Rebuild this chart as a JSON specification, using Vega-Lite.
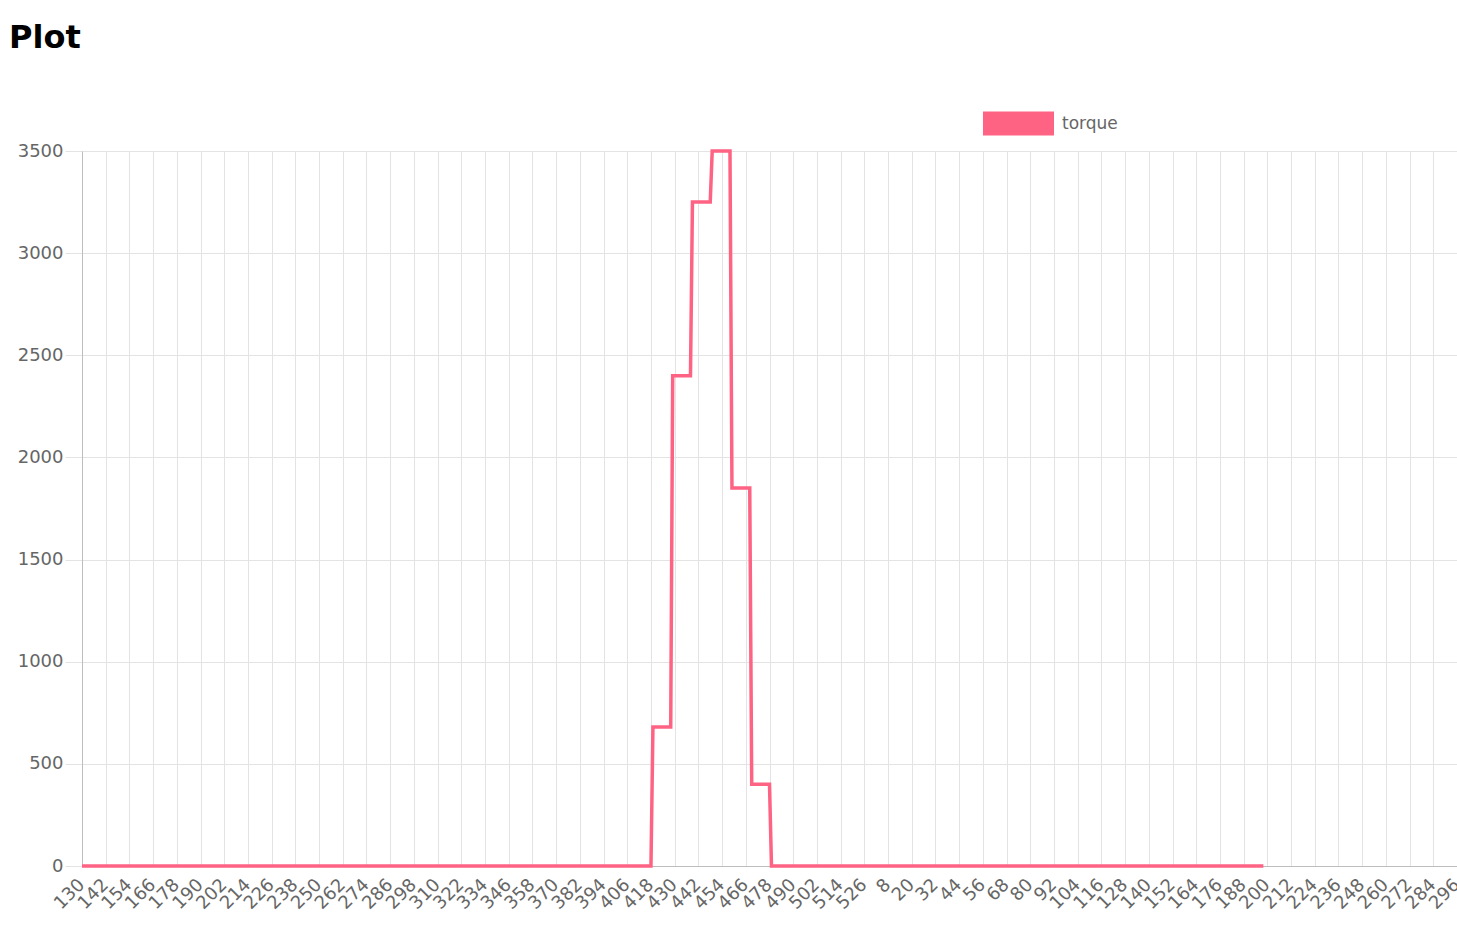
{
  "$schema": "https://vega.github.io/schema/vega-lite/v6.json",
  "autosize": {"type": "none"},
  "padding": {"left": 82, "top": 151, "right": 0, "bottom": 77},
  "width": 1375,
  "height": 715,
  "background": "white",
  "title": {
    "text": "Plot",
    "anchor": "start",
    "frame": "group",
    "font": "DejaVu Sans",
    "fontSize": 32,
    "fontWeight": "bold",
    "color": "#000000",
    "dx": -73,
    "offset": 33
  },
  "config": {
    "view": {"stroke": null},
    "axis": {
      "labelFont": "DejaVu Sans",
      "labelColor": "#666666",
      "gridColor": "#e3e3e3",
      "gridWidth": 1,
      "tickColor": "#e3e3e3",
      "domainColor": "#bdbdbd"
    }
  },
  "datasets": {
    "torque": [
      {"index": 0, "torque": 0, "series": "torque"},
      {"index": 288, "torque": 0, "series": "torque"},
      {"index": 289, "torque": 680, "series": "torque"},
      {"index": 298, "torque": 680, "series": "torque"},
      {"index": 299, "torque": 2400, "series": "torque"},
      {"index": 308, "torque": 2400, "series": "torque"},
      {"index": 309, "torque": 3250, "series": "torque"},
      {"index": 318, "torque": 3250, "series": "torque"},
      {"index": 319, "torque": 3500, "series": "torque"},
      {"index": 328, "torque": 3500, "series": "torque"},
      {"index": 329, "torque": 1850, "series": "torque"},
      {"index": 338, "torque": 1850, "series": "torque"},
      {"index": 339, "torque": 400, "series": "torque"},
      {"index": 348, "torque": 400, "series": "torque"},
      {"index": 349, "torque": 0, "series": "torque"},
      {"index": 598, "torque": 0, "series": "torque"}
    ],
    "ticks": [
      {"index": 0, "label": "130"}, {"index": 12, "label": "142"}, {"index": 24, "label": "154"},
      {"index": 36, "label": "166"}, {"index": 48, "label": "178"}, {"index": 60, "label": "190"},
      {"index": 72, "label": "202"}, {"index": 84, "label": "214"}, {"index": 96, "label": "226"},
      {"index": 108, "label": "238"}, {"index": 120, "label": "250"}, {"index": 132, "label": "262"},
      {"index": 144, "label": "274"}, {"index": 156, "label": "286"}, {"index": 168, "label": "298"},
      {"index": 180, "label": "310"}, {"index": 192, "label": "322"}, {"index": 204, "label": "334"},
      {"index": 216, "label": "346"}, {"index": 228, "label": "358"}, {"index": 240, "label": "370"},
      {"index": 252, "label": "382"}, {"index": 264, "label": "394"}, {"index": 276, "label": "406"},
      {"index": 288, "label": "418"}, {"index": 300, "label": "430"}, {"index": 312, "label": "442"},
      {"index": 324, "label": "454"}, {"index": 336, "label": "466"}, {"index": 348, "label": "478"},
      {"index": 360, "label": "490"}, {"index": 372, "label": "502"}, {"index": 384, "label": "514"},
      {"index": 396, "label": "526"}, {"index": 408, "label": "8"}, {"index": 420, "label": "20"},
      {"index": 432, "label": "32"}, {"index": 444, "label": "44"}, {"index": 456, "label": "56"},
      {"index": 468, "label": "68"}, {"index": 480, "label": "80"}, {"index": 492, "label": "92"},
      {"index": 504, "label": "104"}, {"index": 516, "label": "116"}, {"index": 528, "label": "128"},
      {"index": 540, "label": "140"}, {"index": 552, "label": "152"}, {"index": 564, "label": "164"},
      {"index": 576, "label": "176"}, {"index": 588, "label": "188"}, {"index": 600, "label": "200"},
      {"index": 612, "label": "212"}, {"index": 624, "label": "224"}, {"index": 636, "label": "236"},
      {"index": 648, "label": "248"}, {"index": 660, "label": "260"}, {"index": 672, "label": "272"},
      {"index": 684, "label": "284"}, {"index": 696, "label": "296"}
    ]
  },
  "layer": [
    {
      "data": {"name": "torque"},
      "mark": {"type": "line", "strokeWidth": 3.5, "strokeJoin": "miter", "strokeCap": "butt", "clip": false},
      "encoding": {
        "x": {
          "field": "index",
          "type": "quantitative",
          "scale": {"domain": [0, 696], "nice": false, "zero": false},
          "axis": {
            "title": null,
            "values": [0,12,24,36,48,60,72,84,96,108,120,132,144,156,168,180,192,204,216,228,240,252,264,276,288,300,312,324,336,348,360,372,384,396,408,420,432,444,456,468,480,492,504,516,528,540,552,564,576,588,600,612,624,636,648,660,672,684,696],
            "labels": false,
            "labelOverlap": false,
            "ticks": false,
            "grid": true,
            "domain": true
          }
        },
        "y": {
          "field": "torque",
          "type": "quantitative",
          "scale": {"domain": [0, 3500], "nice": false},
          "axis": {
            "title": null,
            "format": "d",
            "values": [0, 500, 1000, 1500, 2000, 2500, 3000, 3500],
            "labelFontSize": 18,
            "labelPadding": 2,
            "tickSize": 17,
            "grid": true,
            "domain": true
          }
        },
        "color": {
          "field": "series",
          "type": "nominal",
          "scale": {"range": ["#ff6384"]},
          "legend": {
            "title": null,
            "orient": "none",
            "legendX": 901,
            "legendY": -63,
            "padding": 0,
            "symbolType": "M-1,-0.338H1V0.338H-1Z",
            "symbolSize": 5041,
            "symbolFillColor": "#ff6384",
            "symbolStrokeColor": "#ff6384",
            "symbolStrokeWidth": 0,
            "labelFont": "DejaVu Sans",
            "labelFontSize": 17,
            "labelColor": "#666666",
            "labelOffset": 8
          }
        }
      }
    },
    {
      "data": {"name": "ticks"},
      "mark": {
        "type": "text",
        "angle": 315,
        "align": "right",
        "baseline": "middle",
        "font": "DejaVu Sans",
        "fontSize": 18,
        "color": "#666666",
        "clip": false
      },
      "encoding": {
        "x": {
          "field": "index",
          "type": "quantitative",
          "axis": {
            "title": null,
            "values": [0,12,24,36,48,60,72,84,96,108,120,132,144,156,168,180,192,204,216,228,240,252,264,276,288,300,312,324,336,348,360,372,384,396,408,420,432,444,456,468,480,492,504,516,528,540,552,564,576,588,600,612,624,636,648,660,672,684,696],
            "labels": false,
            "labelOverlap": false,
            "ticks": false,
            "grid": true,
            "domain": true
          }
        },
        "y": {
          "datum": -80,
          "type": "quantitative",
          "axis": {
            "title": null,
            "format": "d",
            "values": [0, 500, 1000, 1500, 2000, 2500, 3000, 3500],
            "labelFontSize": 18,
            "labelPadding": 2,
            "tickSize": 17,
            "grid": true,
            "domain": true
          }
        },
        "text": {"field": "label", "type": "nominal"}
      }
    }
  ]
}
